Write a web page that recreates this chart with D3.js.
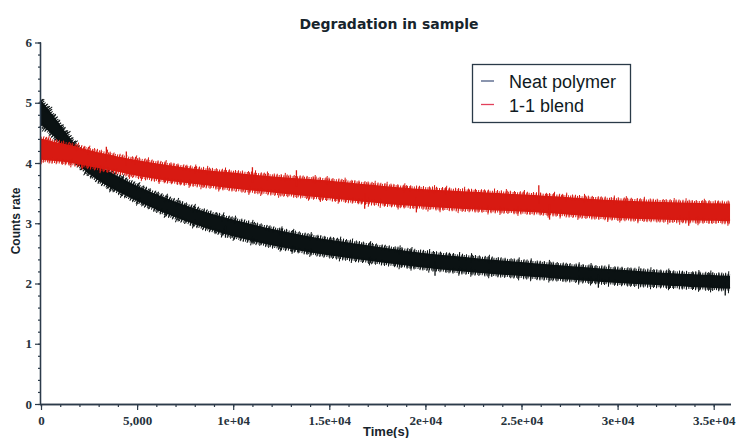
<!DOCTYPE html>
<html>
<head>
<meta charset="utf-8">
<script src="https://cdn.jsdelivr.net/npm/d3@7"></script>
<style>
  html, body { margin: 0; padding: 0; background: #fff; }
  svg { display: block; }
</style>
</head>
<body>
<svg id="chart" width="736" height="438"></svg>
<script>
// Sample times (s) at which the band edges are recorded
const timeS = [0, 700, 1600, 2200, 3300, 4350, 5000, 6800, 8500, 10500, 12250, 14000,
               15700, 17800, 19350, 21100, 22800, 24550, 26800, 28500, 30250, 32000, 33700, 35850];

// Neat polymer: upper / lower edge of the noisy count-rate trace
const neatUpper = [5.08, 4.80, 4.40, 4.18, 3.92, 3.76, 3.65, 3.41, 3.22, 3.05, 2.92, 2.81,
                   2.73, 2.63, 2.56, 2.50, 2.45, 2.40, 2.34, 2.30, 2.26, 2.22, 2.19, 2.16];
const neatLower = [4.60, 4.42, 4.05, 3.85, 3.60, 3.44, 3.33, 3.08, 2.89, 2.70, 2.58, 2.48,
                   2.40, 2.31, 2.25, 2.19, 2.14, 2.10, 2.05, 2.01, 1.97, 1.94, 1.91, 1.88];

// 1-1 blend: upper / lower edge of the noisy count-rate trace
const blendUpper = [4.44, 4.38, 4.33, 4.27, 4.19, 4.12, 4.08, 3.99, 3.91, 3.86, 3.80, 3.77,
                    3.72, 3.65, 3.61, 3.58, 3.55, 3.52, 3.48, 3.44, 3.41, 3.39, 3.37, 3.36];
const blendLower = [4.02, 4.00, 3.97, 3.93, 3.86, 3.80, 3.75, 3.66, 3.60, 3.52, 3.47, 3.41,
                    3.36, 3.29, 3.25, 3.22, 3.19, 3.17, 3.13, 3.08, 3.05, 3.03, 3.01, 3.00];

// Isolated spikes that stick out of the bands: [time, value]
const neatSpikes = [[35600, 1.80], [9600, 2.76], [20500, 2.13], [29000, 1.93]];
const blendSpikes = [[3400, 4.27], [4440, 4.19], [13290, 3.88], [25900, 3.63],
                     [16840, 3.24], [19530, 3.18], [26460, 3.06], [33700, 2.96], [11000, 3.93]];

// Axis ticks
const xMajorTicks = [0, 5000, 10000, 15000, 20000, 25000, 30000, 35000];
const xTickLabels = ["0", "5,000", "1e+04", "1.5e+04", "2e+04", "2.5e+04", "3e+04", "3.5e+04"];
const yMajorTicks = [0, 1, 2, 3, 4, 5, 6];

const seriesNames = ["Neat polymer", "1-1 blend"];
const seriesColors = ["#0b1213", "#d81a12"];
const legendLineColors = ["#4b5b82", "#e2405a"];

const svg = d3.select("#chart");
const axisColor = "#2c3b4a";

const x = d3.scaleLinear().domain([0, 35900]).range([41, 731]);
const y = d3.scaleLinear().domain([0, 6]).range([404, 42.5]);

// Title
svg.append("text")
  .attr("x", 389).attr("y", 29)
  .attr("text-anchor", "middle")
  .attr("font-family", "DejaVu Sans, Verdana, sans-serif")
  .attr("font-weight", "bold").attr("font-size", 14)
  .attr("fill", "#17242c")
  .text("Degradation in sample");

// Bands: filled core between the edges, with ragged dashed strokes along each edge.
// The core edges sit a little inside the recorded extremes so the ragged strokes
// reach out to them.
const curve = d3.curveBasis;
const inset = 2;
function area(upper, lower) {
  return d3.area()
    .x((d, i) => x(timeS[i]))
    .y0((d, i) => y(lower[i]) - inset)
    .y1((d, i) => y(upper[i]) + inset)
    .curve(curve)(timeS);
}
function edge(vals, shift) {
  return d3.line().x((d, i) => x(timeS[i])).y((d, i) => y(vals[i]) + shift).curve(curve)(timeS);
}
const raggedStrokes = [
  {w: 4, dash: "1 1.3"},
  {w: 6, dash: "1 3 1 5 1 2"},
  {w: 9, dash: "1 17 1 29 1 11"}
];
const bands = [
  {upper: neatUpper, lower: neatLower, spikes: neatSpikes, color: seriesColors[0]},
  {upper: blendUpper, lower: blendLower, spikes: blendSpikes, color: seriesColors[1]}
];
bands.forEach((b, bi) => {
  const g = svg.append("g");
  g.append("path")
    .attr("d", area(b.upper, b.lower))
    .attr("fill", b.color);
  [[b.upper, inset], [b.lower, -inset]].forEach(([vals, shift], ei) => {
    raggedStrokes.forEach((s, si) => {
      g.append("path")
        .attr("d", edge(vals, shift))
        .attr("fill", "none")
        .attr("stroke", b.color)
        .attr("stroke-width", s.w)
        .attr("stroke-dasharray", s.dash)
        .attr("stroke-dashoffset", (ei * 7 + si * 3 + bi * 5));
    });
  });
  const mid = t => {
    const i = d3.bisectLeft(timeS, t);
    const k = Math.max(1, Math.min(i, timeS.length - 1));
    const f = (t - timeS[k - 1]) / (timeS[k] - timeS[k - 1]);
    return ((b.upper[k - 1] + b.lower[k - 1]) * (1 - f) + (b.upper[k] + b.lower[k]) * f) / 2;
  };
  g.append("g").selectAll("line").data(b.spikes).join("line")
    .attr("x1", d => x(d[0])).attr("x2", d => x(d[0]))
    .attr("y1", d => y(mid(d[0]))).attr("y2", d => y(d[1]))
    .attr("stroke", b.color).attr("stroke-width", 1.3);
});

// Axes
const fontTicks = "Liberation Serif, Times New Roman, serif";
const gx = svg.append("g").attr("transform", "translate(0,404)");
gx.call(d3.axisBottom(x).tickValues(d3.range(0, 36000, 1000)).tickSize(3).tickFormat(""));
gx.call(g => g.append("g").call(d3.axisBottom(x).tickValues(xMajorTicks).tickSize(6)
  .tickFormat((d, i) => xTickLabels[i])));
gx.selectAll("path.domain").attr("d", "M40,0.5H731").attr("stroke", axisColor).attr("stroke-width", 1.3);
gx.selectAll("line").attr("stroke", axisColor).attr("stroke-width", 1.2);
gx.selectAll("text").attr("font-family", fontTicks).attr("font-size", 13)
  .attr("font-weight", "bold")
  .attr("fill", "#26323c").attr("dy", "0").attr("y", 21);

const gy = svg.append("g").attr("transform", "translate(41,0)");
gy.call(d3.axisLeft(y).tickValues(d3.range(0, 6.01, 0.2)).tickSize(3).tickFormat(""));
gy.call(g => g.append("g").call(d3.axisLeft(y).tickValues(yMajorTicks).tickSize(6).tickFormat(d3.format("d"))));
gy.selectAll("path.domain").attr("d", "M-0.5,42.5V404.5").attr("stroke", axisColor).attr("stroke-width", 1.3);
gy.selectAll("line").attr("stroke", axisColor).attr("stroke-width", 1.2);
gy.selectAll("text").attr("font-family", fontTicks).attr("font-size", 13)
  .attr("font-weight", "bold")
  .attr("fill", "#26323c").attr("x", -9);

// Axis titles
svg.append("text")
  .attr("transform", "translate(20,221) rotate(-90)")
  .attr("text-anchor", "middle")
  .attr("font-family", "Liberation Sans, Arial, sans-serif")
  .attr("font-weight", "bold").attr("font-size", 12)
  .attr("fill", "#17242c")
  .text("Counts rate");
svg.append("text")
  .attr("x", 386).attr("y", 436)
  .attr("text-anchor", "middle")
  .attr("font-family", "Liberation Sans, Arial, sans-serif")
  .attr("font-weight", "bold").attr("font-size", 13)
  .attr("fill", "#17242c")
  .text("Time(s)");

// Legend
const lg = svg.append("g").attr("transform", "translate(472,64)");
lg.append("rect").attr("x", 0.5).attr("y", 0.5).attr("width", 158).attr("height", 58)
  .attr("fill", "#fff").attr("stroke", "#2a3a48").attr("stroke-width", 1.3);
seriesNames.forEach((name, i) => {
  const cy = 17 + i * 23.5;
  lg.append("line").attr("x1", 9).attr("x2", 22).attr("y1", cy).attr("y2", cy)
    .attr("stroke", legendLineColors[i]).attr("stroke-width", 1.3);
  lg.append("text").attr("x", 37).attr("y", cy + 7)
    .attr("font-family", "Liberation Sans, Arial, sans-serif")
    .attr("font-size", 18).attr("fill", "#0f1a22")
    .text(name);
});
</script>
</body>
</html>
